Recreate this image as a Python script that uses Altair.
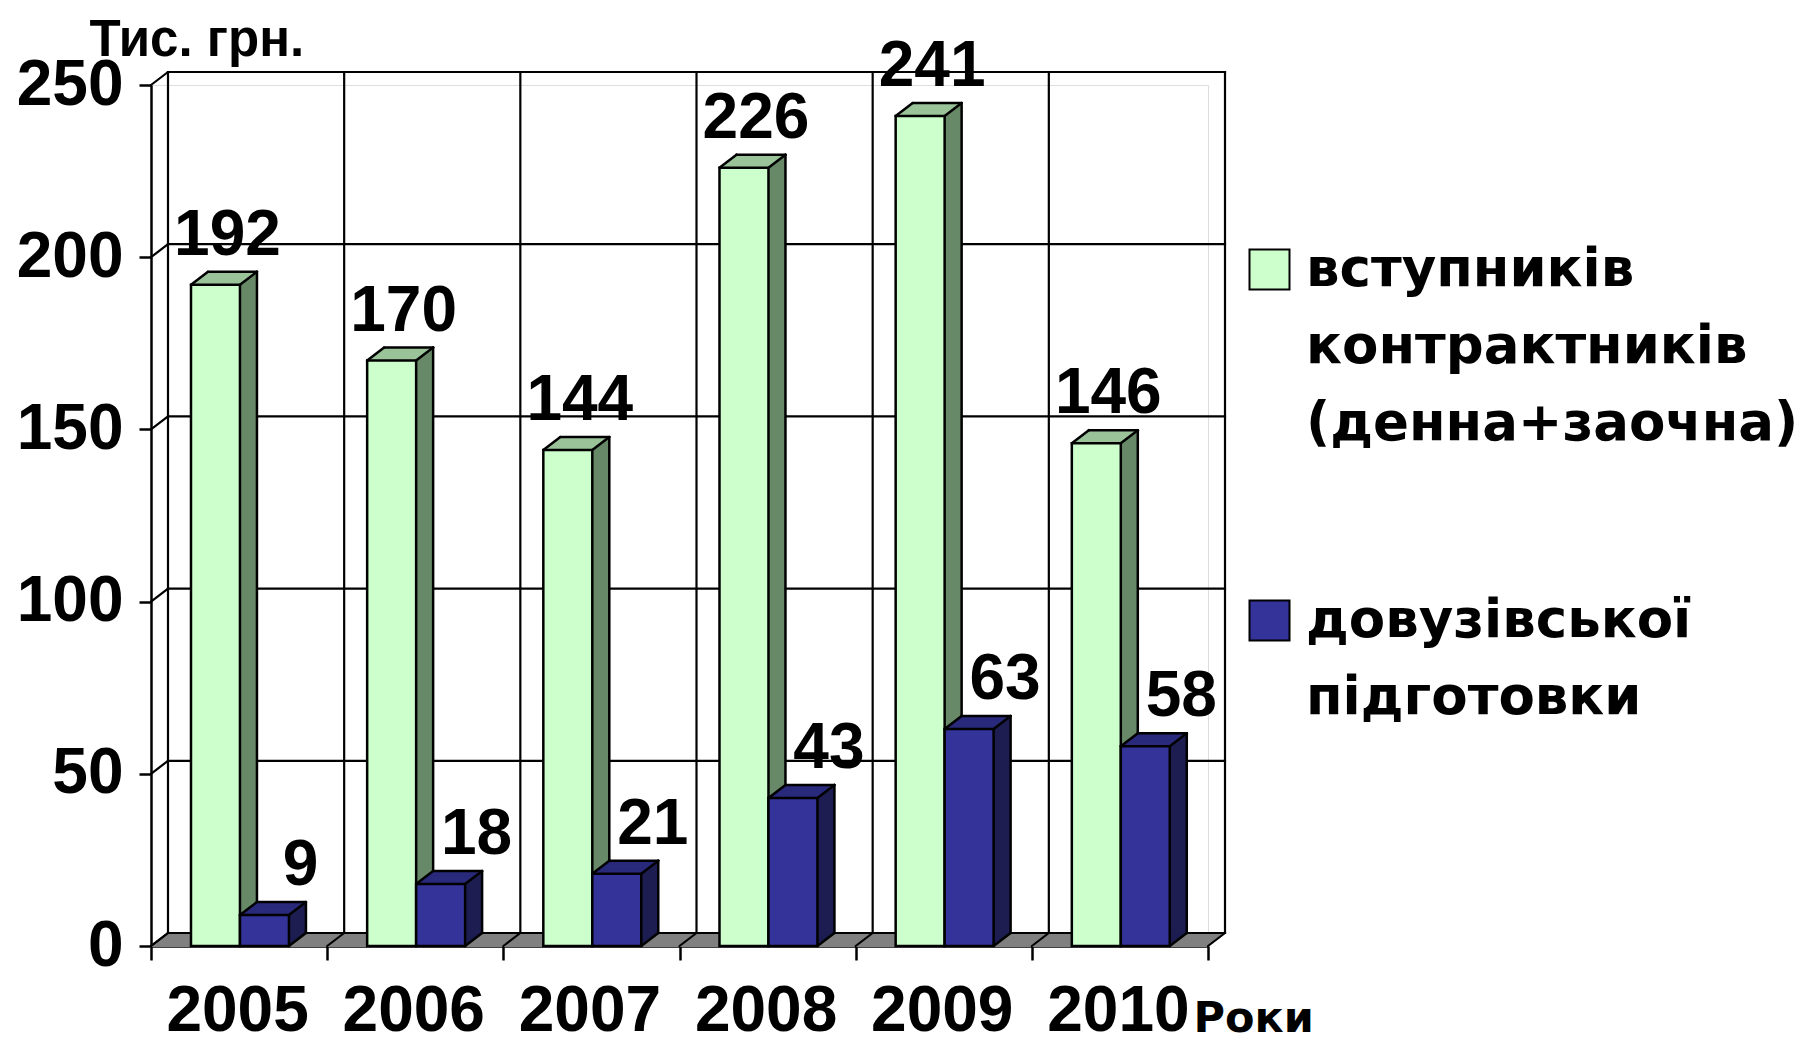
import altair as alt
import pandas as pd

# ---------------- data ----------------
years = ["2005", "2006", "2007", "2008", "2009", "2010"]
series_names = ["вступників контрактників (денна+заочна)", "довузівської підготовки"]
entrants = [192, 170, 144, 226, 241, 146]
preuni = [9, 18, 21, 43, 63, 58]
y_ticks = [0, 50, 100, 150, 200, 250]

# ---------------- style ----------------
front_colors = ["#CCFFCC", "#333399"]
top_colors = ["#9AC39A", "#2A2A7C"]
side_colors = ["#678967", "#1D1D52"]
label_dx = [12, 36]
FONT = "Liberation Sans"
WIDE_FONT = "DejaVu Sans"
W, H = 1057, 861
DX, DY = 17.0, 13.0
N = 12
SX, SY = DX / N, DY / N
LW = 2.5
GAP, BW = 0.227, 0.278
NC = len(years)

rows = []
for i, yr in enumerate(years):
    rows.append(dict(year=yr, idx=i, s=0, series=series_names[0], value=entrants[i]))
    rows.append(dict(year=yr, idx=i, s=1, series=series_names[1], value=preuni[i]))
df = pd.DataFrame(rows)
ticks_df = pd.DataFrame({"t": y_ticks})
bounds_df = pd.DataFrame({"b": list(range(NC + 1))})

xs = alt.Scale(domain=[0, NC], nice=False, zero=False)
ys = alt.Scale(domain=[0, 250], nice=False, zero=True)

year_arr = "[" + ",".join("'%s'" % y for y in years) + "]"

x_axis = alt.Axis(
    values=list(range(NC + 1)), tickSize=14, tickWidth=LW, tickColor="black",
    domainColor="black", domainWidth=LW, grid=False,
    labelExpr="datum.value < %d ? %s[datum.value] : ''" % (NC, year_arr),
    labelOffset=W / NC / 2 - 2, labelFontSize=64, labelFont=FONT, labelFontWeight="bold",
    labelColor="black", labelBaseline="alphabetic", labelPadding=70,
    labelFlush=False, labelOverlap=False, labelBound=False,
    title="Роки", titleX=1042, titleY=85, titleAlign="left", titleAnchor="start",
    titleBaseline="alphabetic", titleFontSize=43, titleFont=WIDE_FONT,
    titleFontWeight="bold", titleColor="black",
)
y_axis = alt.Axis(
    values=y_ticks, tickSize=12, tickWidth=LW, tickColor="black",
    domainColor="black", domainWidth=LW, grid=False,
    labelFontSize=64, labelFont=FONT, labelFontWeight="bold", labelColor="black",
    labelPadding=16, labelOverlap=False, labelFlush=False,
    title="Тис. грн.", titleAngle=0, titleX=-62, titleY=-30, titleAlign="left",
    titleBaseline="alphabetic", titleFontSize=51, titleFont=FONT,
    titleFontWeight="bold", titleColor="black",
)


def X(f):
    return alt.X(f, type="quantitative", scale=xs, axis=x_axis)


def Y(f):
    return alt.Y(f, type="quantitative", scale=ys, axis=y_axis)


def XD(v):
    return alt.X(datum=v, scale=xs, axis=x_axis)


def YD(v):
    return alt.Y(datum=v, scale=ys, axis=y_axis)


layers = []

# floor fill (gray plane at value 0)
floor_src = alt.Chart(ticks_df).transform_filter("datum.t == 0")
for k in range(N + 1):
    layers.append(
        floor_src.mark_rule(color="#808080", strokeWidth=SY + 1,
                            xOffset=k * SX, x2Offset=k * SX, yOffset=-k * SY)
        .encode(x=XD(0), x2=alt.X2(datum=NC), y=Y("t"))
    )

# back wall gridlines
layers.append(
    alt.Chart(ticks_df).mark_rule(color="black", strokeWidth=2.2, xOffset=DX,
                                  x2Offset=DX, yOffset=-DY, strokeCap="square")
    .encode(x=XD(0), x2=alt.X2(datum=NC), y=Y("t"))
)
# back wall verticals at category boundaries
layers.append(
    alt.Chart(bounds_df).mark_rule(color="black", strokeWidth=2.2, xOffset=DX,
                                   yOffset=-DY, y2Offset=-DY, strokeCap="square")
    .encode(x=X("b"), y=YD(250), y2=alt.Y2(datum=0))
)
# left side wall diagonals
layers.append(
    alt.Chart(ticks_df).mark_rule(color="black", strokeWidth=2.2, x2Offset=DX,
                                  y2Offset=-DY, strokeCap="round")
    .encode(x=XD(0), x2=alt.X2(datum=0), y=Y("t"), y2=alt.Y2("t:Q"))
)
# floor diagonals at category boundaries
layers.append(
    alt.Chart(bounds_df).mark_rule(color="black", strokeWidth=2.2, x2Offset=DX,
                                   y2Offset=-DY, strokeCap="round")
    .encode(x=X("b"), x2=alt.X2("b:Q"), y=YD(0), y2=alt.Y2(datum=0))
)

legend = alt.Legend(
    title=None, orient="none", legendX=1092, legendY=158, padding=0,
    symbolType="square", symbolSize=1600, symbolStrokeColor="black",
    symbolStrokeWidth=2, symbolOpacity=1,
    labelFont=WIDE_FONT, labelFontSize=53, labelFontWeight="bold", labelColor="black",
    labelExpr="split(datum.label, ' ')", labelLimit=900, labelOffset=10,
    rowPadding=143,
)
color_scale = alt.Scale(domain=series_names, range=front_colors)

base = alt.Chart(df).transform_calculate(
    xl="datum.idx + %f + datum.s * %f" % (GAP, BW),
    xr="datum.idx + %f + datum.s * %f + %f" % (GAP, BW, BW),
    xc="datum.idx + %f + datum.s * %f + %f" % (GAP, BW, BW / 2),
)

for s in range(2):
    sub = base.transform_filter("datum.s == %d" % s)
    # extrusion (side colour)
    for k in range(1, N + 1):
        layers.append(
            sub.mark_bar(color=side_colors[s], xOffset=k * SX, x2Offset=k * SX,
                         yOffset=-k * SY, y2Offset=-k * SY)
            .encode(x=X("xl"), x2=alt.X2("xr:Q"), y=Y("value"), y2=alt.Y2(datum=0))
        )
    # top face strips
    for k in range(1, N + 1):
        layers.append(
            sub.mark_bar(color=top_colors[s], xOffset=(k - 0.5) * SX,
                         x2Offset=(k - 0.5) * SX,
                         yOffset=-k * SY - 0.4, y2Offset=-(k - 1) * SY + 0.4)
            .encode(x=X("xl"), x2=alt.X2("xr:Q"), y=Y("value"), y2=alt.Y2("value:Q"))
        )
    # front face
    layers.append(
        sub.mark_bar(stroke="black", strokeWidth=LW, opacity=1)
        .encode(x=X("xl"), x2=alt.X2("xr:Q"), y=Y("value"), y2=alt.Y2(datum=0),
                color=alt.Color("series:N", scale=color_scale, legend=legend))
    )
    rule = dict(color="black", strokeWidth=LW, strokeCap="round")
    # back top edge
    layers.append(
        sub.mark_rule(xOffset=DX, x2Offset=DX, yOffset=-DY, **rule)
        .encode(x=X("xl"), x2=alt.X2("xr:Q"), y=Y("value"))
    )
    # back right edge
    layers.append(
        sub.mark_rule(xOffset=DX, yOffset=-DY, y2Offset=-DY, **rule)
        .encode(x=X("xr"), y=Y("value"), y2=alt.Y2(datum=0))
    )
    # diagonals
    layers.append(
        sub.mark_rule(x2Offset=DX, y2Offset=-DY, **rule)
        .encode(x=X("xl"), x2=alt.X2("xl:Q"), y=Y("value"), y2=alt.Y2("value:Q"))
    )
    layers.append(
        sub.mark_rule(x2Offset=DX, y2Offset=-DY, **rule)
        .encode(x=X("xr"), x2=alt.X2("xr:Q"), y=Y("value"), y2=alt.Y2("value:Q"))
    )
    layers.append(
        sub.mark_rule(x2Offset=DX, y2Offset=-DY, **rule)
        .encode(x=X("xr"), x2=alt.X2("xr:Q"), y=YD(0), y2=alt.Y2(datum=0))
    )
    # value labels
    layers.append(
        sub.mark_text(dx=label_dx[s], dy=-30, baseline="alphabetic", align="center",
                      fontSize=64, fontWeight="bold", font=FONT, color="black")
        .encode(x=X("xc"), y=Y("value"), text=alt.Text("value:Q"))
    )

chart = (
    alt.layer(*layers)
    .properties(width=W, height=H,
                autosize=alt.AutoSizeParams(type="none"),
                padding={"left": 143, "top": 77, "right": 592, "bottom": 98})
    .configure_view(stroke=None)
    .configure(background="white", style={"guide-label": {"lineHeight": 77}})
)

chart.save("out.html", embed_options={"renderer": "svg", "actions": False})
